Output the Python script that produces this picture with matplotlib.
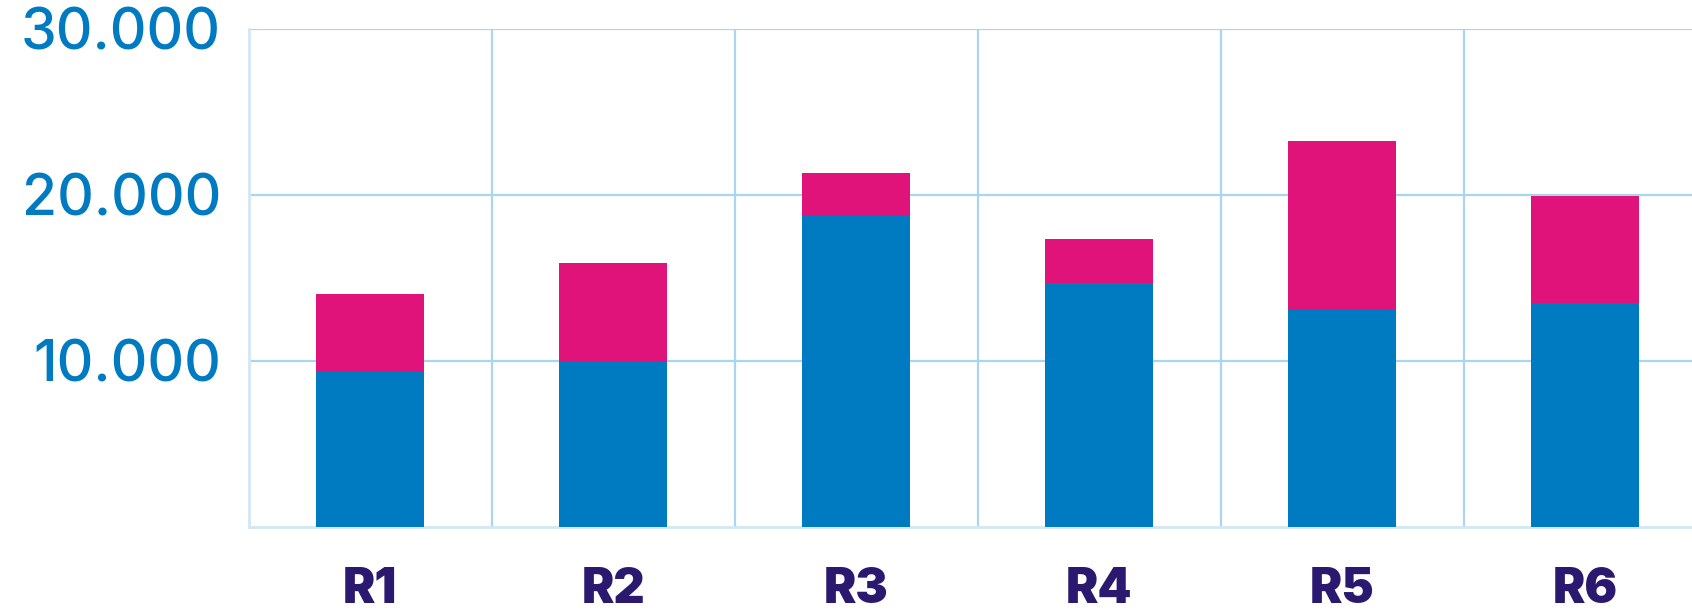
import matplotlib
matplotlib.use("Agg")
import matplotlib.pyplot as plt
from matplotlib.ticker import MultipleLocator

# values
regions = ["R1", "R2", "R3", "R4", "R5", "R6"]
base = [9300, 10000, 18700, 14700, 13100, 13500]
extra = [4700, 5900, 2600, 2600, 10100, 6400]
ytick_vals = [10000, 20000, 30000]
ytick_labels = ["10.000", "20.000", "30.000"]

BLUE = "#007bc1"
PINK = "#e0137b"
GRID = "#a9d5ef"
PURPLE = "#2b186f"

fig = plt.figure(figsize=(16.92, 6.12), dpi=100)
ax = fig.add_axes([0.147, 0.1394, 0.853, 0.814])

x = list(range(len(regions)))
ax.bar(x, base, width=0.445, color=BLUE, zorder=3)
ax.bar(x, extra, bottom=base, width=0.445, color=PINK, zorder=3)

ax.set_xlim(-0.5, 5.44)
ax.set_ylim(0, 30000)

ax.set_yticks(ytick_vals)
ax.set_yticklabels(ytick_labels, family="Inter", fontweight="medium", fontsize=41, color=BLUE)
ax.set_xticks(x)
ax.set_xticklabels(regions, family="Inter", fontweight="black", fontsize=35, color=PURPLE)
ax.xaxis.set_minor_locator(MultipleLocator(1, offset=0.5))

ax.tick_params(axis="y", length=0, pad=20)
ax.tick_params(axis="x", which="both", length=0, pad=29)

ax.grid(axis="y", which="major", color=GRID, lw=1.6, zorder=1)
ax.grid(axis="x", which="minor", color=GRID, lw=1.6, zorder=1)

for side in ["top", "right"]:
    ax.spines[side].set_visible(False)
for side in ["left", "bottom"]:
    ax.spines[side].set_color("#d2e8f6")
    ax.spines[side].set_linewidth(2)

fig.savefig("out.png", dpi=100)
